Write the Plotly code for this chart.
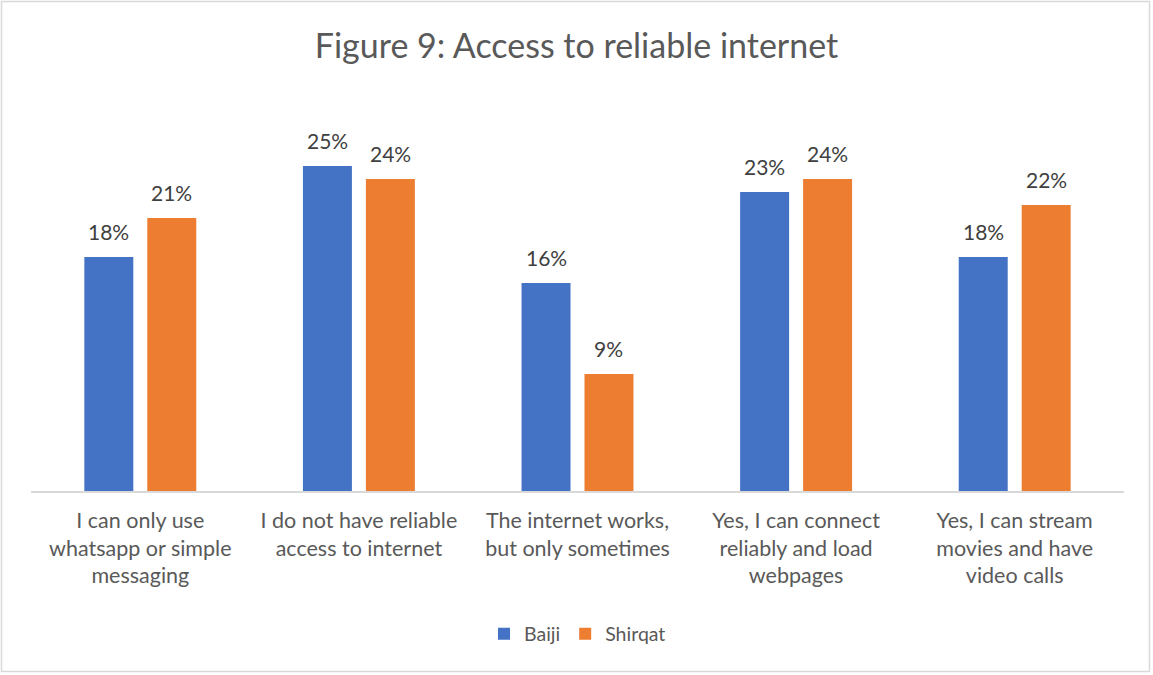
import plotly.graph_objects as go

categories = [
    "I can only use<br>whatsapp or simple<br>messaging",
    "I do not have reliable<br>access to internet",
    "The internet works,<br>but only sometimes",
    "Yes, I can connect<br>reliably and load<br>webpages",
    "Yes, I can stream<br>movies and have<br>video calls",
]
baiji = [18, 25, 16, 23, 18]
shirqat = [21, 24, 9, 24, 22]
series_names = ["Baiji", "Shirqat"]
colors = ["#4472C4", "#ED7D31"]

W, H = 1153, 675
ml, mr, mt, mb = 31, 29, 101, 184
FONT = "Lato"
TXT = "#595959"

fig = go.Figure()
for name, vals, col in zip(series_names, [baiji, shirqat], colors):
    fig.add_trace(go.Bar(name=name, x=categories, y=vals, marker_color=col,
                         marker_line_width=0))

# data labels as annotations
plot_w = W - ml - mr
cat_w = plot_w / len(categories)
slot = cat_w * (1 - 0.424) / 2
for i, vals in enumerate([baiji, shirqat]):
    shift = (i - 0.5) * slot
    for c, v in zip(categories, vals):
        fig.add_annotation(x=c, y=v, text=f"{v}%", showarrow=False,
                           xshift=shift, yshift=11, yanchor="bottom",
                           font=dict(family=FONT, size=21, color="#404040"))

fig.update_layout(
    width=W, height=H,
    margin=dict(l=ml, r=mr, t=mt, b=mb),
    paper_bgcolor="white", plot_bgcolor="white",
    barmode="group", bargap=0.424, bargroupgap=0.222,
    title=dict(text="Figure 9: Access to reliable internet", x=0.5, xanchor="center",
               y=1 - 46 / H, yanchor="middle",
               font=dict(family=FONT, size=34, color=TXT)),
    showlegend=True,
    legend=dict(orientation="h", x=0.5, xanchor="center", y=-(634 - 491) / (H - mt - mb),
                yanchor="middle", font=dict(family=FONT, size=19.5, color=TXT),
                itemsizing="constant"),
    xaxis=dict(showline=True, linecolor="#D9D9D9", linewidth=1.5, ticks="",
               tickfont=dict(family=FONT, size=21.5, color=TXT), showgrid=False,
               ticklabelstandoff=9),
    yaxis=dict(range=[0, 30], visible=False, showgrid=False),
)
fig.add_shape(type="rect", xref="paper", yref="paper",
              x0=-(ml - 1.5) / plot_w, x1=1 + (mr - 3.5) / plot_w,
              y0=-(mb - 3.5) / (H - mt - mb), y1=1 + (mt - 1.5) / (H - mt - mb),
              line=dict(color="#D9D9D9", width=1.5), layer="below")
fig.write_html("out.html", config={"displayModeBar": False},
               post_script="document.body.style.margin='0px';")
